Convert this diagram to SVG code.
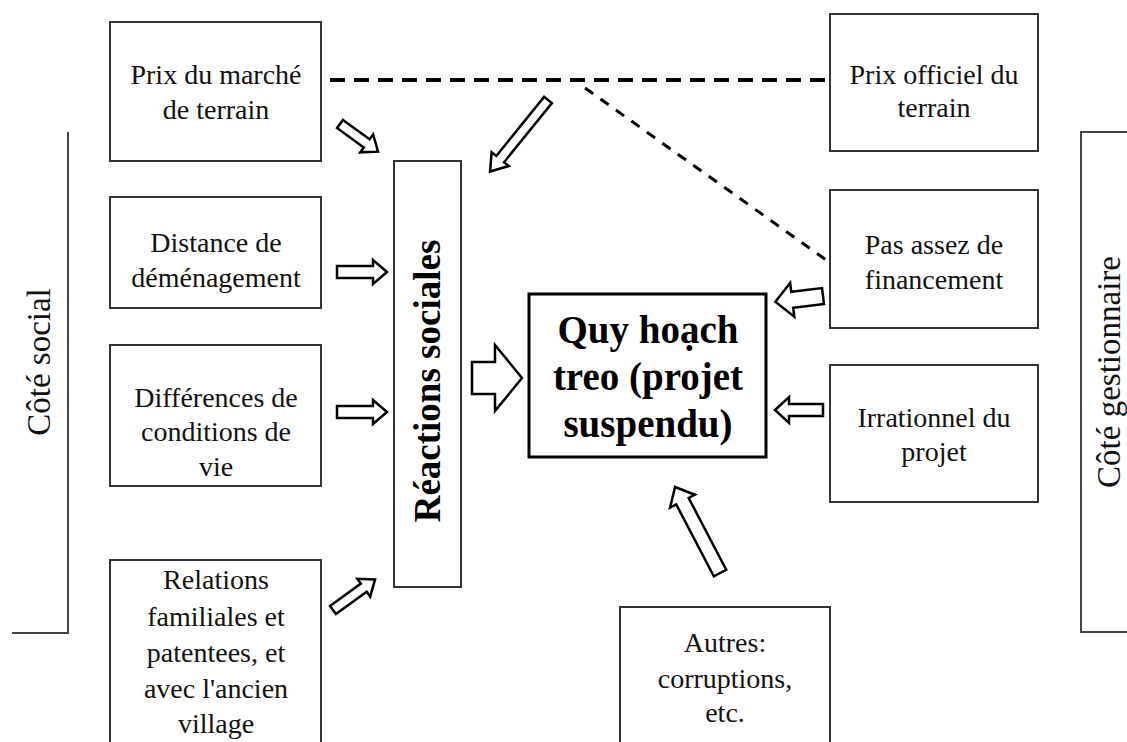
<svg xmlns="http://www.w3.org/2000/svg" width="1127" height="742" viewBox="0 0 1127 742">
<style>
.box{fill:#fff;stroke:#333;stroke-width:2}
.t{font-family:"Liberation Serif","Times New Roman",serif;font-size:28px;fill:#111;text-anchor:middle}
.side{font-family:"Liberation Serif","Times New Roman",serif;font-size:33px;fill:#111;text-anchor:middle}
.bold{font-family:"Liberation Serif","Times New Roman",serif;font-weight:bold;fill:#000;text-anchor:middle}
.arr{fill:#fff;stroke:#000;stroke-width:2.5;stroke-linejoin:miter}
.dash{fill:none;stroke:#000}
.br{fill:none;stroke:#444;stroke-width:2}
</style>
<rect width="1127" height="742" fill="#fff"/>
<g id="brackets">
<polyline class="br" points="68,132 68,633 12,633"/>
<polyline class="br" points="1127,132 1081,132 1081,632 1127,632"/>
<text class="side" transform="translate(50,362) rotate(-90)">Côté social</text>
<text class="side" transform="translate(1120,372) rotate(-90)">Côté gestionnaire</text>
</g>
<g id="connectors">
<line class="dash" x1="330" y1="80" x2="830" y2="80" stroke-width="4" stroke-dasharray="15 9"/>
<line class="dash" x1="585" y1="88" x2="829" y2="262" stroke-width="3" stroke-dasharray="10 9"/>
<path class="arr" transform="translate(340,124) rotate(36)" d="M0,-5 H33 V-11 L47,0 L33,11 V5 H0 Z"/>
<path class="arr" transform="translate(548,100) rotate(129)" d="M0,-5 H76 V-11 L92,0 L76,11 V5 H0 Z"/>
<path class="arr" transform="translate(337,272)" d="M0,-6 H36 V-12 L50,0 L36,12 V6 H0 Z"/>
<path class="arr" transform="translate(337,412)" d="M0,-6 H36 V-12 L50,0 L36,12 V6 H0 Z"/>
<path class="arr" transform="translate(333,610) rotate(-36)" d="M0,-5 H38 V-11 L52,0 L38,11 V5 H0 Z"/>
<path class="arr" transform="translate(472,378)" d="M0,-16 H23 V-33 L50,0 L23,33 V16 H0 Z"/>
<path class="arr" transform="translate(823,296) rotate(173)" d="M0,-8 H31 V-17 L48,0 L31,17 V8 H0 Z"/>
<path class="arr" transform="translate(823,410) rotate(180)" d="M0,-6 H34 V-13 L48,0 L34,13 V6 H0 Z"/>
<path class="arr" transform="translate(720,573) rotate(-117.6)" d="M0,-7 H81 V-14 L97,0 L81,14 V7 H0 Z"/>
</g>
<g id="n-prix-marche">
<rect class="box" x="110" y="22" width="211" height="139"/>
<text class="t" x="216" y="84">Prix du marché</text>
<text class="t" x="216" y="119">de terrain</text>
</g>
<g id="n-distance">
<rect class="box" x="110" y="197" width="211" height="111"/>
<text class="t" x="216" y="252">Distance de</text>
<text class="t" x="216" y="287">déménagement</text>
</g>
<g id="n-differences">
<rect class="box" x="110" y="345" width="211" height="141"/>
<text class="t" x="216" y="407">Différences de</text>
<text class="t" x="216" y="441">conditions de</text>
<text class="t" x="216" y="476">vie</text>
</g>
<g id="n-relations">
<rect class="box" x="110" y="560" width="211" height="190"/>
<text class="t" x="216" y="589">Relations</text>
<text class="t" x="216" y="626">familiales et</text>
<text class="t" x="216" y="662">patentees, et</text>
<text class="t" x="216" y="698">avec l'ancien</text>
<text class="t" x="216" y="733">village</text>
</g>
<g id="n-reactions">
<rect class="box" x="394" y="161" width="67" height="426"/>
<text class="bold" font-size="37" transform="translate(440,381) rotate(-90)">Réactions sociales</text>
</g>
<g id="n-quy-hoach">
<rect x="529" y="294" width="237" height="163" fill="#fff" stroke="#000" stroke-width="3"/>
<text class="bold" font-size="39" x="648" y="343">Quy hoạch</text>
<text class="bold" font-size="39" x="648" y="390">treo (projet</text>
<text class="bold" font-size="39" x="648" y="437">suspendu)</text>
</g>
<g id="n-prix-officiel">
<rect class="box" x="830" y="14" width="208" height="137"/>
<text class="t" x="934" y="84">Prix officiel du</text>
<text class="t" x="934" y="117">terrain</text>
</g>
<g id="n-financement">
<rect class="box" x="830" y="190" width="208" height="138"/>
<text class="t" x="934" y="254">Pas assez de</text>
<text class="t" x="934" y="289">financement</text>
</g>
<g id="n-irrationnel">
<rect class="box" x="830" y="365" width="208" height="137"/>
<text class="t" x="934" y="427">Irrationnel du</text>
<text class="t" x="934" y="461">projet</text>
</g>
<g id="n-autres">
<rect class="box" x="620" y="607" width="210" height="143"/>
<text class="t" x="725" y="652">Autres:</text>
<text class="t" x="725" y="688">corruptions,</text>
<text class="t" x="725" y="722">etc.</text>
</g>
</svg>
